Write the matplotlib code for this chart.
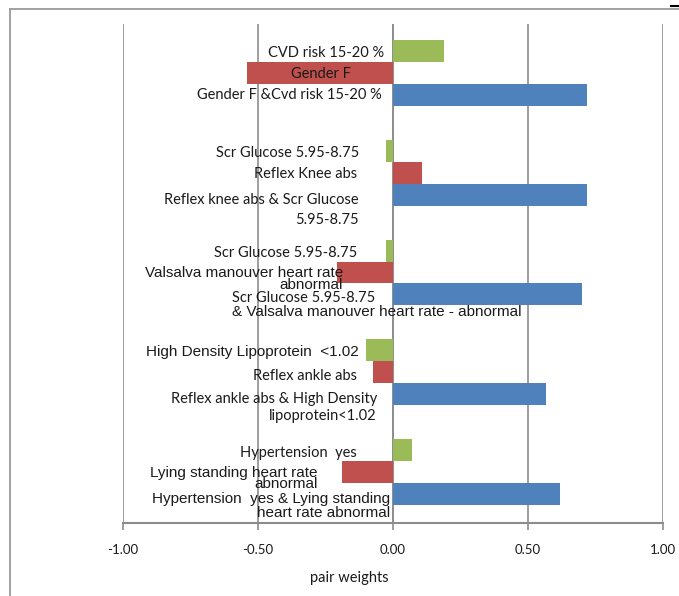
"""Pair weights chart: single-feature weights vs. pair weight, five feature pairs."""
import matplotlib

matplotlib.use("Agg")
import matplotlib.pyplot as plt
from matplotlib.lines import Line2D

GREEN = "#9BBB59"
RED = "#C0504D"
BLUE = "#4F81BD"
GRID = "#8C8C8C"
TEXT = "#1a1a1a"
CALIBRI = "Lato"
ARIAL = "Liberation Sans"

# first feature of each pair (green), second feature (red), the pair (blue)
green_labels = ["CVD risk 15-20 %", "Scr Glucose 5.95-8.75", "Scr Glucose 5.95-8.75",
                "High Density Lipoprotein  <1.02", "Hypertension  yes"]
green_values = [0.19, -0.026, -0.026, -0.10, 0.07]

red_labels = ["Gender F", "Reflex Knee abs", "Valsalva manouver heart rate\nabnormal",
              "Reflex ankle abs", "Lying standing heart rate\nabnormal"]
red_values = [-0.54, 0.107, -0.207, -0.074, -0.19]

blue_labels = ["Gender F &Cvd risk 15-20 %", "Reflex knee abs & Scr Glucose\n5.95-8.75",
               "Scr Glucose 5.95-8.75\n& Valsalva manouver heart rate - abnormal",
               "Reflex ankle abs & High Density\nlipoprotein<1.02",
               "Hypertension  yes & Lying standing\nheart rate abnormal"]
blue_values = [0.718, 0.718, 0.70, 0.567, 0.619]

x_ticks = [-1.0, -0.5, 0.0, 0.5, 1.0]
x_label = "pair weights"

# label placement: (dx px from zero, dy px of first line below bar centre, line pitch px, ha, fonts per line)
GREEN_LAYOUT = [(-9, 2, 0, "right", [CALIBRI]), (-34, 2.5, 0, "right", [CALIBRI]),
                (-36, 2, 0, "right", [CALIBRI]), (-34, 1.5, 0, "right", [ARIAL]),
                (-36, 2.5, 0, "right", [CALIBRI])]
RED_LAYOUT = [(-42, 1, 0, "right", [CALIBRI]), (-36, 1, 0, "right", [CALIBRI]),
              (-50, 0, 12, "right", [ARIAL, ARIAL]), (-36, 4, 0, "right", [CALIBRI]),
              (-75, 0.5, 11, "right", [ARIAL, ARIAL])]
BLUE_LAYOUT = [(-11, 0.5, 0, "right", [CALIBRI]), (-34, 5, 20, "right", [CALIBRI, CALIBRI]),
               (-161, 3.5, 14, "left", [CALIBRI, ARIAL]), (-16, 5, 17, "right", [CALIBRI, CALIBRI]),
               (-3, 4.5, 14, "right", [ARIAL, ARIAL])]

BAR_H = 0.22
OFFSETS = {"green": 0.27, "red": 0.49, "blue": 0.71}


def draw_labels(ax, labels, ys, layout):
    for text, y, (dx, dy, pitch, ha, fonts) in zip(labels, ys, layout):
        for k, line in enumerate(text.split("\n")):
            ax.annotate(line, xy=(0, y), xytext=(dx, -(dy + k * pitch)),
                        textcoords="offset pixels", ha=ha, va="center",
                        fontsize=10.5 if fonts[k] == CALIBRI else 11,
                        family=fonts[k], color=TEXT, zorder=5)


def main():
    fig = plt.figure(figsize=(6.79, 5.96), dpi=100)
    ax = fig.add_axes([123 / 679, 1 - 523 / 596, 540 / 679, 499 / 596])

    groups = range(len(blue_values))
    series = [("green", green_values, green_labels, GREEN, GREEN_LAYOUT),
              ("red", red_values, red_labels, RED, RED_LAYOUT),
              ("blue", blue_values, blue_labels, BLUE, BLUE_LAYOUT)]
    for key, values, labels, color, layout in series:
        ys = [g + OFFSETS[key] for g in groups]
        ax.barh(ys, values, height=BAR_H, color=color, zorder=3)
        draw_labels(ax, labels, ys, layout)

    ax.set_xlim(-1, 1)
    ax.set_ylim(len(blue_values), 0)
    ax.set_xticks(x_ticks)
    ax.set_xticklabels([f"{t:.2f}" for t in x_ticks], family=CALIBRI, fontsize=9.5, color=TEXT)
    ax.set_yticks([])
    ax.grid(axis="x", color=GRID, linewidth=1.2, zorder=1)
    ax.axvline(0, color=GRID, linewidth=1.2, zorder=1)
    for side in ["top", "left", "right"]:
        ax.spines[side].set_visible(False)
    ax.spines["bottom"].set_color(GRID)
    ax.spines["bottom"].set_linewidth(1.5)
    ax.tick_params(axis="x", length=5, width=1.2, color=GRID, pad=10)
    ax.set_xlabel(x_label, family=CALIBRI, fontsize=10.5, color=TEXT)
    ax.xaxis.set_label_coords((349 - 123) / 540, -(571 - 523) / 499)

    # outer chart frame (only left and top edges fall inside the picture)
    fig.add_artist(Line2D([10 / 679, 10 / 679], [0, 1 - 9 / 596], color="#9a9a9a", lw=1.3))
    fig.add_artist(Line2D([10 / 679, 1], [1 - 9 / 596, 1 - 9 / 596], color="#9a9a9a", lw=1.3))
    fig.add_artist(Line2D([671 / 679, 678 / 679], [1 - 6 / 596, 1 - 6 / 596], color="black", lw=1.5))

    fig.savefig("out.png", dpi=100)
    plt.close(fig)


if __name__ == "__main__":
    main()
